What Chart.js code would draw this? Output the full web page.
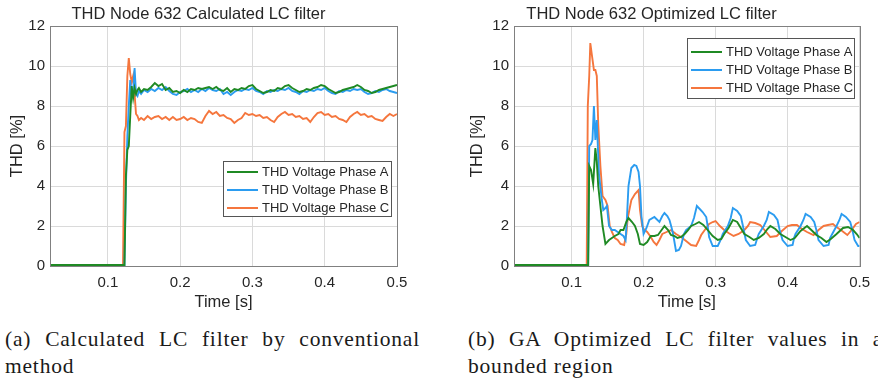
<!DOCTYPE html>
<html>
<head>
<meta charset="utf-8">
<script src="https://cdn.jsdelivr.net/npm/chart.js@4.4.1/dist/chart.umd.min.js"></script>
<style>
  html, body { margin: 0; padding: 0; background: #fff; }
  #wrap { position: relative; width: 878px; height: 380px; overflow: hidden; }
  .panel { position: absolute; top: 0; }
  .caption {
    position: absolute; top: 326px; width: 415px;
    font-family: "Liberation Serif", "Times New Roman", serif;
    font-size: 21.5px; line-height: 27px; letter-spacing: 0.8px;
    color: #1a1a1a; white-space: nowrap;
  }
  .caption .first { text-align: justify; text-align-last: justify; }
</style>
</head>
<body>
<div id="wrap">
  <div class="panel" style="left:0"><canvas id="chartCalc" width="440" height="316"></canvas></div>
  <div class="panel" style="left:440px"><canvas id="chartOpt" width="438" height="316"></canvas></div>
  <div class="caption" style="left:5px">
    <div class="first">(a) Calculated LC filter by conventional</div>
    <div>method</div>
  </div>
  <div class="caption" style="left:468px">
    <div class="first">(b) GA Optimized LC filter values in a</div>
    <div>bounded region</div>
  </div>
</div>
<script>
// eixos
const xTicks = [0.1, 0.2, 0.3, 0.4, 0.5];
const yTicks = [0, 2, 4, 6, 8, 10, 12];
const phaseLabels = ['THD Voltage Phase A', 'THD Voltage Phase B', 'THD Voltage Phase C'];

// (a) filtro calculado - tempo comum as tres fases
const timeCalc = [
  0.02, 0.06, 0.1, 0.121, 0.123, 0.125, 0.127, 0.129, 0.131, 0.133,
  0.135, 0.137, 0.139, 0.141, 0.143, 0.146,
  0.15, 0.155, 0.16, 0.165, 0.17, 0.175, 0.18, 0.185, 0.19, 0.195,
  0.2, 0.205, 0.21, 0.215, 0.22, 0.225, 0.23, 0.235, 0.24, 0.245,
  0.25, 0.255, 0.26, 0.265, 0.27, 0.275, 0.28, 0.285, 0.29, 0.295,
  0.3, 0.305, 0.31, 0.315, 0.32, 0.325, 0.33, 0.335, 0.34, 0.345,
  0.35, 0.355, 0.36, 0.365, 0.37, 0.375, 0.38, 0.385, 0.39, 0.395,
  0.4, 0.405, 0.41, 0.415, 0.42, 0.425, 0.43, 0.435, 0.44, 0.445,
  0.45, 0.455, 0.46, 0.465, 0.47, 0.475, 0.48, 0.485, 0.49, 0.495,
  0.5
];
const calcPhaseA = [
  0.05, 0.05, 0.05, 0.05, 0.05, 4.5, 5.8, 6.0, 7.5, 9.0,
  8.4, 8.9, 8.6, 8.8, 8.9, 8.7,
  8.85, 8.8, 8.95, 9.15, 9.0, 9.1, 8.8, 8.9, 8.7, 8.75,
  8.65, 8.8, 8.7, 8.85, 8.8, 8.9, 8.85, 8.9, 8.95, 8.85,
  8.95, 8.8, 8.75, 8.9, 8.7, 8.85, 8.8, 8.9, 8.85, 9.0,
  9.05, 8.85, 8.75, 8.65, 8.7, 8.8, 8.75, 8.9, 8.85, 9.0,
  9.05, 8.9, 8.8, 8.7, 8.75, 8.85, 8.8, 8.9, 8.95, 9.05,
  9.0, 8.85, 8.75, 8.65, 8.7, 8.8, 8.85, 8.9, 8.95, 9.05,
  8.95, 8.8, 8.75, 8.65, 8.7, 8.8, 8.85, 8.9, 8.95, 9.0,
  9.05
];
const calcPhaseB = [
  0.05, 0.05, 0.05, 0.05, 0.05, 4.0, 6.5, 8.0, 9.3, 8.4,
  8.7, 9.9, 8.6, 8.5, 8.75, 8.6,
  8.8, 8.7, 8.85, 8.75, 8.9, 8.8, 8.95, 8.75, 8.6, 8.55,
  8.7, 8.75, 8.85, 8.7, 8.8, 8.7, 8.85, 8.75, 8.9, 8.8,
  8.75, 8.85, 8.6, 8.7, 8.55, 8.7, 8.8, 8.75, 8.85, 8.8,
  8.9, 8.75, 8.7, 8.6, 8.75, 8.7, 8.8, 8.75, 8.85, 8.8,
  8.9, 8.75, 8.7, 8.6, 8.75, 8.7, 8.8, 8.75, 8.85, 8.8,
  8.9, 8.75, 8.65, 8.6, 8.75, 8.7, 8.8, 8.75, 8.85, 8.8,
  8.85, 8.7, 8.6, 8.65, 8.75, 8.7, 8.8, 8.85, 8.75, 8.7,
  8.65
];
const calcPhaseC = [
  0.05, 0.05, 0.05, 0.05, 6.7, 7.0, 9.5, 10.4, 9.6, 9.2,
  9.5, 8.6, 7.6, 7.5, 7.3, 7.4,
  7.3, 7.5, 7.35, 7.45, 7.5, 7.35, 7.45, 7.3, 7.45, 7.3,
  7.35, 7.45, 7.3, 7.4, 7.35, 7.2, 7.15, 7.5, 7.75, 7.6,
  7.7, 7.5, 7.55, 7.4, 7.35, 7.15, 7.3, 7.4, 7.65, 7.55,
  7.6, 7.5, 7.55, 7.4, 7.45, 7.3, 7.2, 7.45, 7.6, 7.7,
  7.55, 7.6, 7.45, 7.5, 7.35, 7.4, 7.2, 7.45, 7.65, 7.7,
  7.55, 7.6, 7.45, 7.5, 7.35, 7.3, 7.2, 7.45, 7.6, 7.7,
  7.55, 7.6, 7.45, 7.5, 7.35, 7.3, 7.25, 7.45, 7.6, 7.5,
  7.6
];

// (b) filtro otimizado por AG - cada fase com seu tempo
const timeOptA = [
  0.02, 0.06, 0.1, 0.123, 0.1245, 0.127, 0.13, 0.133, 0.135, 0.137,
  0.14, 0.143, 0.147, 0.152, 0.16, 0.165, 0.168, 0.172, 0.176, 0.179,
  0.184, 0.188, 0.192, 0.195, 0.2, 0.205, 0.21, 0.215, 0.22, 0.225,
  0.229, 0.234, 0.238, 0.243, 0.247, 0.252, 0.257, 0.262, 0.266, 0.272,
  0.277, 0.283, 0.289, 0.296, 0.303, 0.308, 0.312, 0.318, 0.324, 0.33,
  0.335, 0.34, 0.347, 0.353, 0.36, 0.367, 0.372, 0.376, 0.383, 0.39,
  0.397, 0.404, 0.41, 0.418, 0.427, 0.433, 0.44, 0.447, 0.454, 0.46,
  0.468, 0.477, 0.484, 0.491, 0.496, 0.5
];
const optPhaseA = [
  0.05, 0.05, 0.05, 0.05, 5.0, 4.8, 4.1, 5.9, 5.2, 4.0,
  3.0, 2.0, 1.1, 1.3, 1.5, 1.6, 1.8, 1.8, 2.2, 2.4,
  2.2, 2.0, 1.6, 1.1, 1.05, 1.2, 1.5, 1.5, 1.55, 1.8,
  2.0, 1.8, 1.55, 1.5, 1.4, 1.45, 1.6, 1.8, 2.0, 2.1,
  2.2, 2.05, 1.8, 1.5, 1.3, 1.35, 1.6, 1.9, 2.3, 2.2,
  1.9, 1.6, 1.45, 1.3, 1.4, 1.6, 1.85, 2.0, 1.85, 1.6,
  1.45, 1.3, 1.4, 1.75, 2.0, 1.8, 1.55, 1.4, 1.2, 1.35,
  1.6, 1.9, 1.95, 1.8, 1.6, 1.4
];
const timeOptB = [
  0.02, 0.06, 0.1, 0.123, 0.1245, 0.127, 0.129, 0.131, 0.133, 0.135,
  0.138, 0.142, 0.144, 0.147, 0.149, 0.152, 0.156, 0.16, 0.164, 0.168,
  0.172, 0.175, 0.177, 0.179, 0.183, 0.187, 0.19, 0.193, 0.195, 0.197,
  0.2, 0.204, 0.208, 0.215, 0.222, 0.226, 0.229, 0.233, 0.236, 0.239,
  0.241, 0.245, 0.249, 0.252, 0.256, 0.259, 0.266, 0.27, 0.274, 0.278,
  0.282, 0.287, 0.289, 0.291, 0.296, 0.303, 0.307, 0.31, 0.317, 0.321,
  0.324, 0.33, 0.335, 0.338, 0.342, 0.348, 0.355, 0.358, 0.36, 0.367,
  0.371, 0.374, 0.381, 0.386, 0.389, 0.393, 0.4, 0.407, 0.409, 0.411,
  0.418, 0.422, 0.425, 0.432, 0.437, 0.44, 0.443, 0.45, 0.457, 0.459,
  0.462, 0.468, 0.472, 0.475, 0.481, 0.487, 0.49, 0.493, 0.498, 0.5
];
const optPhaseB = [
  0.05, 0.05, 0.05, 0.05, 6.0, 6.1, 6.3, 8.0, 6.3, 7.3,
  4.6, 3.3, 2.8, 2.9, 3.0, 2.0, 1.8, 1.8, 1.7, 1.6,
  1.5, 1.3, 2.5, 4.0, 4.9, 5.05, 5.0, 4.7, 4.0, 2.5,
  1.6, 1.9, 2.3, 2.45, 2.2, 2.5, 2.65, 2.5, 2.3, 1.9,
  1.6, 0.75, 0.8, 1.0, 1.6, 1.8, 2.0, 2.4, 3.0, 2.85,
  2.7, 2.45, 2.0, 1.45, 1.0, 1.0, 1.3, 1.6, 2.0, 2.4,
  2.9, 2.75, 2.5, 2.0, 1.3, 1.0, 1.05, 1.4, 1.6, 2.0,
  2.3, 2.7, 2.55, 2.3, 1.8, 1.3, 1.0, 1.05, 1.4, 1.6,
  2.0, 2.3, 2.6, 2.45, 2.2, 1.8, 1.3, 1.0, 1.05, 1.4,
  1.6, 2.0, 2.3, 2.6, 2.45, 2.2, 1.8, 1.3, 1.0, 1.0
];
const timeOptC = [
  0.02, 0.06, 0.1, 0.121, 0.1225, 0.1245, 0.126, 0.128, 0.131, 0.133,
  0.135, 0.137, 0.14, 0.143, 0.147, 0.15, 0.153, 0.156, 0.16, 0.164,
  0.168, 0.173, 0.176, 0.178, 0.183, 0.188, 0.193, 0.195, 0.198, 0.2,
  0.205, 0.21, 0.214, 0.218, 0.222, 0.226, 0.232, 0.238, 0.245, 0.252,
  0.259, 0.266, 0.273, 0.277, 0.28, 0.286, 0.291, 0.296, 0.3, 0.306,
  0.312, 0.318, 0.325, 0.332, 0.34, 0.345, 0.348, 0.355, 0.362, 0.368,
  0.376, 0.385, 0.392, 0.4, 0.406, 0.413, 0.42, 0.427, 0.436, 0.443,
  0.45, 0.456, 0.463, 0.468, 0.474, 0.483, 0.489, 0.495, 0.5
];
const optPhaseC = [
  0.05, 0.05, 0.05, 0.05, 8.0, 9.5, 11.15, 10.6, 9.8, 9.8,
  9.5, 7.1, 5.0, 3.5, 3.3, 3.0, 2.0, 1.7, 1.4, 1.3,
  1.1, 1.05, 1.6, 2.4, 3.3, 3.6, 3.8, 2.8, 2.0, 1.85,
  1.7, 1.45, 1.2, 1.05, 1.3, 1.6, 1.7, 1.8, 1.6, 1.45,
  1.25, 1.05, 1.0, 1.3, 1.55, 1.85, 2.1, 2.2, 2.25, 2.0,
  1.8, 1.65, 1.5, 1.6, 1.8, 2.0, 2.2, 2.15, 2.05, 1.8,
  1.45, 1.5, 1.75, 2.0, 2.05, 2.05, 1.85, 1.7, 1.55, 1.8,
  2.0, 2.05, 2.1, 1.95, 1.8, 1.55, 1.8, 2.1, 2.2
];

const phaseColors = ['#1f8a24', '#2b9cf0', '#f5763d'];
const textColor = '#262626';
const fontFamily = '"Liberation Sans", Arial, Helvetica, sans-serif';

// monta os pontos {x, y}
function pontos(tempos, valores) {
    return tempos.map((t, i) => ({ x: t, y: valores[i] }));
}

// caixa em volta da area do grafico (estilo MATLAB)
const plotBox = {
    id: 'plotBox',
    afterDatasetsDraw(chart) {
        const { ctx, chartArea: a } = chart;
        ctx.save();
        ctx.strokeStyle = '#808080';
        ctx.lineWidth = 1;
        ctx.strokeRect(Math.round(a.left) + 0.5, Math.round(a.top) + 0.5,
            Math.round(a.right - a.left), Math.round(a.bottom - a.top));
        ctx.restore();
    }
};

// legenda dentro da area, com moldura
const legendBox = {
    id: 'legendBox',
    afterDatasetsDraw(chart, args, opts) {
        const ctx = chart.ctx;
        ctx.save();
        ctx.fillStyle = '#fff';
        ctx.fillRect(opts.x, opts.y, opts.w, opts.h);
        ctx.strokeStyle = '#555';
        ctx.lineWidth = 1;
        ctx.strokeRect(opts.x + 0.5, opts.y + 0.5, opts.w, opts.h);
        ctx.font = '13px ' + fontFamily;
        ctx.textBaseline = 'middle';
        chart.data.datasets.forEach((ds, i) => {
            const y = opts.y + opts.first + i * 18;
            ctx.strokeStyle = ds.borderColor;
            ctx.lineWidth = 2;
            ctx.beginPath();
            ctx.moveTo(opts.x + 4, y);
            ctx.lineTo(opts.x + 35, y);
            ctx.stroke();
            ctx.fillStyle = textColor;
            ctx.fillText(ds.label, opts.x + 39, y);
        });
        ctx.restore();
    }
};

function criarGrafico(id, titulo, series, padLeft, padRight, yWidth, yTitlePad, legenda) {
    const ctx = document.getElementById(id).getContext('2d');
    return new Chart(ctx, {
        type: 'line',
        data: {
            datasets: series.map((s, i) => ({
                label: phaseLabels[i],
                data: s,
                borderColor: phaseColors[i],
                backgroundColor: phaseColors[i],
                borderWidth: 1.9,
                pointRadius: 0,
                tension: 0
            }))
        },
        options: {
            responsive: false,
            animation: false,
            devicePixelRatio: 1,
            layout: { padding: { left: padLeft, right: padRight, top: 0, bottom: 0 } },
            scales: {
                x: {
                    type: 'linear',
                    min: 0.02,
                    max: 0.5,
                    afterBuildTicks: s => { s.ticks = xTicks.map(v => ({ value: v })); },
                    afterFit: s => { s.height = 50; },
                    grid: { color: '#dadada', drawTicks: false },
                    border: { display: false },
                    ticks: { color: textColor, font: { size: 15 }, padding: 8, maxRotation: 0 },
                    title: {
                        display: true, text: 'Time [s]', color: textColor,
                        font: { size: 16.5 }, padding: { top: 0, bottom: 4 }
                    }
                },
                y: {
                    min: 0,
                    max: 12,
                    afterBuildTicks: s => { s.ticks = yTicks.map(v => ({ value: v })); },
                    afterFit: s => { s.width = yWidth; },
                    grid: { color: '#dadada', drawTicks: false },
                    border: { display: false },
                    ticks: { color: textColor, font: { size: 15 }, padding: 5 },
                    title: {
                        display: true, text: 'THD [%]', color: textColor,
                        font: { size: 16.5 }, padding: { top: yTitlePad, bottom: 0 }
                    }
                }
            },
            plugins: {
                legend: { display: false },
                tooltip: { enabled: false },
                title: {
                    display: true,
                    text: titulo,
                    color: textColor,
                    font: { size: 16.5, weight: 'normal', lineHeight: 1 },
                    padding: { top: 6, bottom: 3.5 }
                },
                legendBox: legenda
            }
        },
        plugins: [plotBox, legendBox]
    });
}

document.addEventListener('DOMContentLoaded', function() {
    Chart.defaults.font.family = fontFamily;
    Chart.defaults.color = textColor;

    criarGrafico('chartCalc', 'THD Node 632 Calculated LC filter',
        [pontos(timeCalc, calcPhaseA), pontos(timeCalc, calcPhaseB), pontos(timeCalc, calcPhaseC)],
        0, 43, 50, 8,
        { x: 223, y: 161, w: 168, h: 55, first: 11 });

    criarGrafico('chartOpt', 'THD Node 632 Optimized LC filter',
        [pontos(timeOptA, optPhaseA), pontos(timeOptB, optPhaseB), pontos(timeOptC, optPhaseC)],
        0, 15, 74, 28,
        { x: 247, y: 38, w: 167, h: 60, first: 14 });
});
</script>
</body>
</html>
